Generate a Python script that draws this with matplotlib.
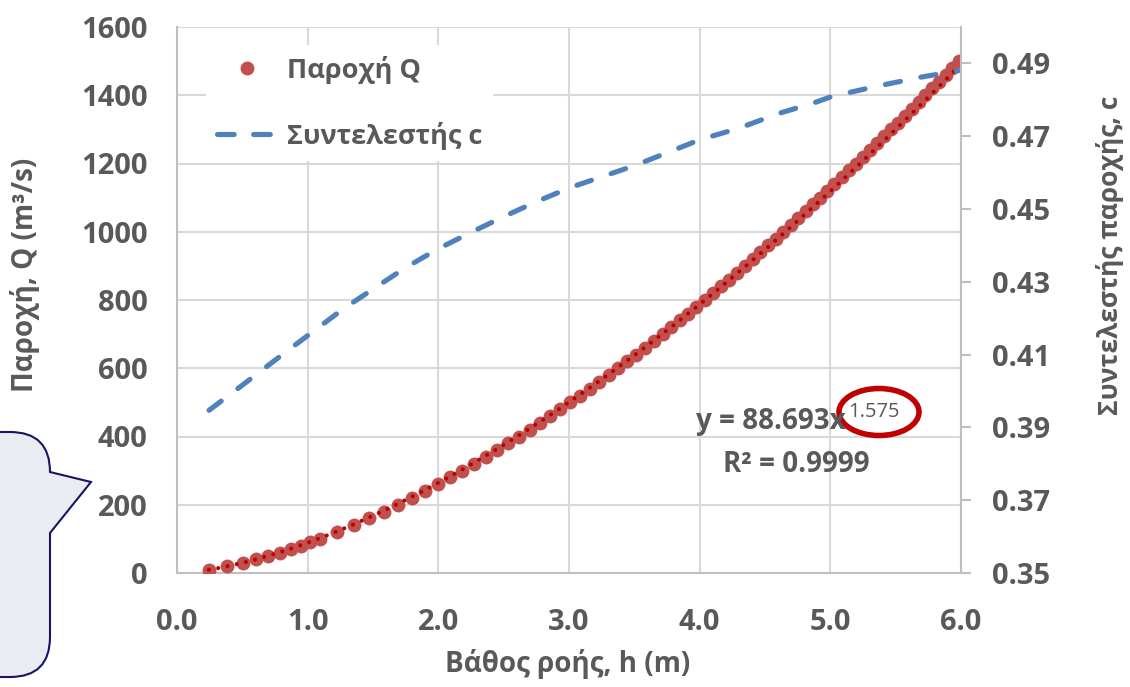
import numpy as np
import matplotlib
matplotlib.use("Agg")
import matplotlib.pyplot as plt
from matplotlib.lines import Line2D
from matplotlib.patches import Ellipse, PathPatch
from matplotlib.path import Path

plt.rcParams['font.family'] = ['Open Sans', 'DejaVu Sans']
plt.rcParams['lines.scale_dashes'] = False

# παροχή Q (m3/s) και βάθος ροής h (m)
Q = [10, 20, 30, 40, 50, 60, 70, 80, 90, 100,
     120, 140, 160, 180, 200, 220, 240, 260, 280, 300,
     320, 340, 360, 380, 400, 420, 440, 460, 480, 500,
     520, 540, 560, 580, 600, 620, 640, 660, 680, 700,
     720, 740, 760, 780, 800, 820, 840, 860, 880, 900,
     920, 940, 960, 980, 1000, 1020, 1040, 1060, 1080, 1100,
     1120, 1140, 1160, 1180, 1200, 1220, 1240, 1260, 1280, 1300,
     1320, 1340, 1360, 1380, 1400, 1420, 1440, 1460, 1480, 1500]
h = [0.244, 0.385, 0.502, 0.605, 0.699, 0.787, 0.869, 0.946, 1.020, 1.092,
     1.225, 1.352, 1.470, 1.584, 1.693, 1.797, 1.898, 1.996, 2.092, 2.184,
     2.275, 2.364, 2.450, 2.535, 2.618, 2.699, 2.778, 2.857, 2.934, 3.010,
     3.085, 3.159, 3.233, 3.305, 3.377, 3.447, 3.516, 3.585, 3.652, 3.718,
     3.784, 3.848, 3.912, 3.975, 4.039, 4.101, 4.164, 4.226, 4.287, 4.346,
     4.406, 4.465, 4.523, 4.581, 4.639, 4.697, 4.754, 4.810, 4.866, 4.923,
     4.977, 5.031, 5.087, 5.141, 5.197, 5.251, 5.306, 5.358, 5.412, 5.466,
     5.518, 5.571, 5.624, 5.675, 5.728, 5.779, 5.831, 5.883, 5.933, 5.984]

# συντελεστής παροχής c
h_c = [0.245, 0.50, 0.81, 1.04, 1.27, 1.50, 1.75, 1.99, 2.24, 2.50, 2.75,
       3.01, 3.50, 4.00, 4.30, 4.61, 4.87, 5.01, 5.34, 5.69, 5.98]
c = [0.3947, 0.4016, 0.4101, 0.4163, 0.4225, 0.4280, 0.4339, 0.4389, 0.4434,
     0.4479, 0.4520, 0.4559, 0.4619, 0.4690, 0.4722, 0.4763, 0.4791, 0.4809,
     0.4836, 0.4862, 0.4880]

# γραμμή τάσης (εξίσωση του διαγράμματος)
a_fit = 88.693
b_fit = 1.575

grey = '#595959'
W, H = 1130, 687
fig = plt.figure(figsize=(W / 100, H / 100), dpi=100)
ax = fig.add_axes([177 / W, 1 - 573 / H, (961 - 177) / W, (573 - 27) / H])
ax2 = ax.twinx()

ax.plot(h, Q, 'o', color='#C0504D', ms=10, mec='none', zorder=3)
hh = np.linspace(h[0], h[-1], 400)
ax.plot(hh, a_fit * hh ** b_fit, color='#C00000', lw=3, ls=(0, (0.01, 6.8)),
        dash_capstyle='round', zorder=4)
ax2.plot(h_c, c, color='#4F81BD', lw=3.7, ls=(0, (11, 15)),
         dash_capstyle='round')

ax.set_xlim(0, 6)
ax.set_ylim(0, 1600)
ax.set_xticks(np.arange(0, 6.1, 1.0))
ax.set_xticklabels(['%.1f' % v for v in np.arange(0, 6.1, 1.0)])
ax.set_yticks(np.arange(0, 1601, 200))
ax2.set_ylim(0.35, 0.50)
ax2.set_yticks(np.arange(0.35, 0.4901, 0.02))
ax2.set_yticklabels(['%.2f' % v for v in np.arange(0.35, 0.4901, 0.02)])

ax.grid(True, color='#D9D9D9', lw=1.5)
ax.set_axisbelow(True)
for s in ['top', 'right']:
    ax.spines[s].set_visible(False)
for s in ['top', 'left', 'bottom']:
    ax2.spines[s].set_visible(False)
for sp in [ax.spines['left'], ax.spines['bottom'], ax2.spines['right']]:
    sp.set_color('#BFBFBF')
    sp.set_linewidth(1.5)

ax.tick_params(axis='x', length=0, pad=25, labelsize=21, labelcolor=grey)
ax.tick_params(axis='y', length=0, pad=21, labelsize=21, labelcolor=grey)
ax2.tick_params(axis='y', length=7, width=1.5, color='#BFBFBF', pad=15,
                labelsize=21, labelcolor=grey)
for lab in ax.get_xticklabels() + ax.get_yticklabels() + ax2.get_yticklabels():
    lab.set_fontweight('bold')

# υπόμνημα
h1 = Line2D([], [], ls='none', marker='o', color='#C0504D', ms=10, mec='none')
h2 = Line2D([], [], color='#4F81BD', lw=3.7, ls=(0, (12, 14)), dash_capstyle='round')
leg = ax2.legend([h1, h2], ['Παροχή Q', 'Συντελεστής c'], loc='upper left',
                 bbox_to_anchor=(206 / W, 1 - 45 / H), bbox_transform=fig.transFigure,
                 prop={'size': 19.5, 'weight': 'bold'}, frameon=True, fancybox=False,
                 edgecolor='none', facecolor='white', framealpha=1,
                 handlelength=2.2, handletextpad=0.4, labelspacing=1.4,
                 borderaxespad=0, numpoints=1)
for t in leg.get_texts():
    t.set_color(grey)

# επικάλυψη σε συντεταγμένες pixel
ov = fig.add_axes([0, 0, 1, 1], zorder=10)
ov.set_xlim(0, W)
ov.set_ylim(H, 0)
ov.axis('off')

ov.text(568, 664, 'Βάθος ροής, h (m)', ha='center', va='center', fontsize=20,
        fontweight='bold', color=grey)
ov.text(25, 275, 'Παροχή, Q (m³/s)', rotation=90, ha='center', va='center',
        fontsize=20, fontweight='bold', color=grey)
ov.text(1110, 255, 'Συντελεστής παροχής, c', rotation=90, ha='center', va='center',
        fontsize=19, fontweight='bold', color=grey)

ov.text(846, 421, 'y = 88.693x', ha='right', va='center', fontsize=20,
        fontweight='bold', color=grey)
ov.text(848, 412, '1.575', ha='left', va='center', fontsize=14.5, color=grey)
ov.text(796, 465, 'R² = 0.9999', ha='center', va='center', fontsize=20,
        fontweight='bold', color=grey)
ov.add_patch(Ellipse((879, 412), 80, 47, fill=False, ec='#C00000', lw=4))

# πλαίσιο σχολίου αριστερά
verts = [(-20, 432), (10, 432), (50, 432), (50, 472), (91, 482), (50, 533),
         (50, 637), (50, 677), (10, 677), (-20, 677), (-20, 432)]
codes = [Path.MOVETO, Path.LINETO, Path.CURVE3, Path.CURVE3, Path.LINETO,
         Path.LINETO, Path.LINETO, Path.CURVE3, Path.CURVE3, Path.LINETO,
         Path.CLOSEPOLY]
ov.add_patch(PathPatch(Path(verts, codes), fc='#E9ECF3', ec='#1B1464', lw=1.5))

fig.savefig('out.png', dpi=100)
